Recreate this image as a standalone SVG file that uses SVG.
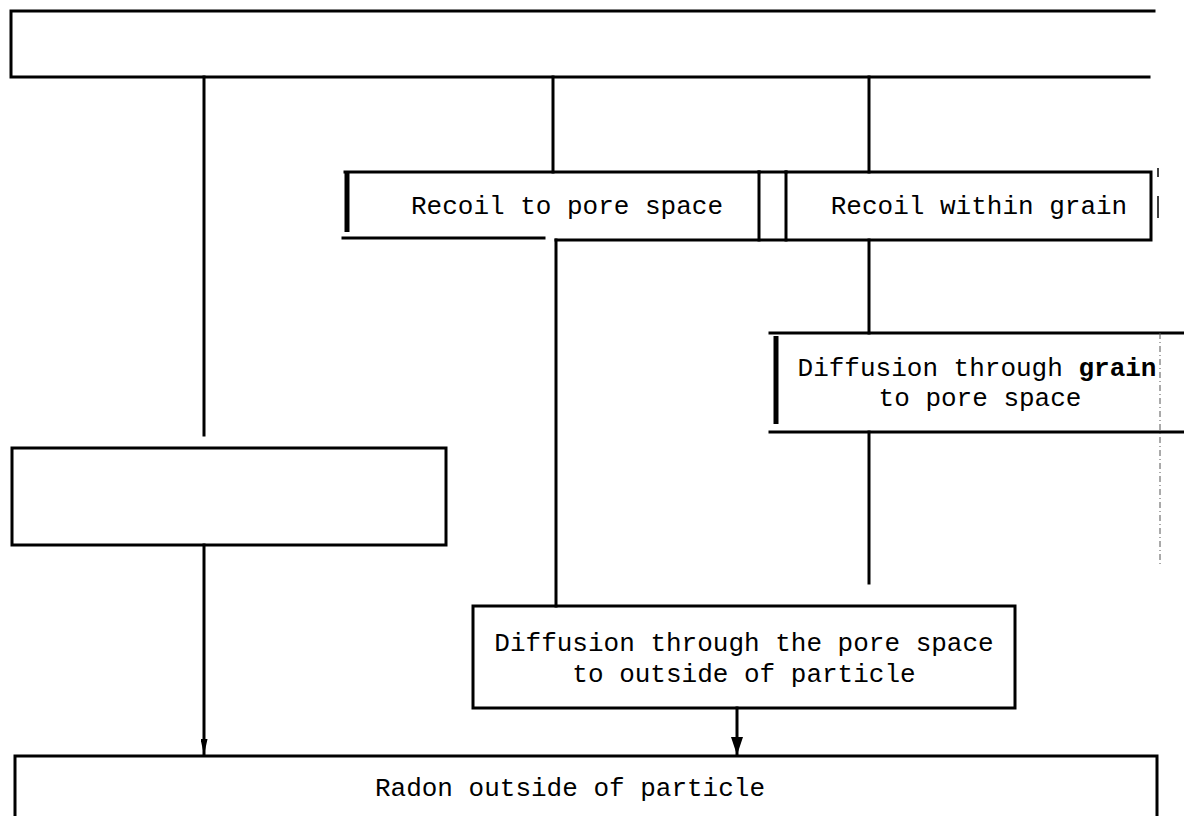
<svg xmlns="http://www.w3.org/2000/svg" width="1184" height="816" viewBox="0 0 1184 816">
<defs>
<style>
.ln{stroke:#000;stroke-width:3;fill:none;stroke-linecap:square}
.thick{stroke:#000;stroke-width:5;fill:none}
.dot{stroke:#555;stroke-width:1;fill:none;stroke-dasharray:6 3 1 3}
.t{font-family:"Liberation Mono","Courier New",monospace;font-size:26px;fill:#000;text-anchor:middle}
</style>
<marker id="ah" markerWidth="18" markerHeight="12" refX="17" refY="6" orient="auto" markerUnits="userSpaceOnUse" viewBox="0 0 18 12">
<path d="M0,0 L18,6 L0,12 Z" fill="#000"/>
</marker>
<marker id="ahs" markerWidth="16" markerHeight="7" refX="15" refY="3.5" orient="auto" markerUnits="userSpaceOnUse" viewBox="0 0 16 7">
<path d="M0,0 L16,3.5 L0,7 Z" fill="#000"/>
</marker>
</defs>
<rect width="1184" height="816" fill="#fff"/>
<g id="top">
<path class="ln" d="M1154,11 L11,11 L11,77 L1149,77"/>
</g>
<g id="recoil-pore">
<path class="ln" d="M759,172 L345,172"/>
<line class="thick" x1="347" y1="172" x2="347" y2="232"/>
<path class="ln" d="M343,238 L544,238"/>
<line class="ln" x1="759" y1="172" x2="759" y2="240"/>
<text class="t" x="567" y="214">Recoil to pore space</text>
</g>
<g id="recoil-grain">
<path class="ln" d="M786,172 L1151,172 L1151,240 L556,240"/>
<line class="ln" x1="786" y1="172" x2="786" y2="240"/>
<line class="ln" x1="759" y1="172" x2="786" y2="172"/>
<line stroke="#000" stroke-width="1.5" x1="1158" y1="168" x2="1158" y2="177"/>
<line stroke="#000" stroke-width="1.5" x1="1158" y1="196" x2="1158" y2="218"/>
<text class="t" x="979" y="214">Recoil within grain</text>
</g>
<g id="diff-grain">
<path class="ln" d="M770,333 L1184,333"/>
<line class="thick" x1="776" y1="336" x2="776" y2="424"/>
<path class="ln" d="M770,432 L1184,432"/>
<line class="dot" x1="1160" y1="333" x2="1160" y2="565"/>
<text class="t" x="977" y="376">Diffusion through <tspan font-weight="bold">grain</tspan></text>
<text class="t" x="980" y="406">to pore space</text>
</g>
<g id="empty-box">
<rect class="ln" x="12" y="448" width="434" height="97"/>
</g>
<g id="diff-pore">
<rect class="ln" x="473" y="606" width="542" height="102"/>
<text class="t" x="744" y="651">Diffusion through the pore space</text>
<text class="t" x="744" y="682">to outside of particle</text>
</g>
<g id="radon">
<path class="ln" d="M15,816 L15,756 L1157,756 L1157,816"/>
<text class="t" x="570" y="796">Radon outside of particle</text>
</g>
<g id="connectors">
<line class="ln" x1="204" y1="77" x2="204" y2="435"/>
<line class="ln" x1="553" y1="77" x2="553" y2="172"/>
<line class="ln" x1="869" y1="77" x2="869" y2="172"/>
<line class="ln" x1="556" y1="240" x2="556" y2="606"/>
<line class="ln" x1="869" y1="240" x2="869" y2="333"/>
<line class="ln" x1="869" y1="432" x2="869" y2="583"/>
<line class="ln" x1="204" y1="545" x2="204" y2="754" marker-end="url(#ahs)"/>
<line class="ln" x1="737" y1="708" x2="737" y2="754" marker-end="url(#ah)"/>
</g>
</svg>
